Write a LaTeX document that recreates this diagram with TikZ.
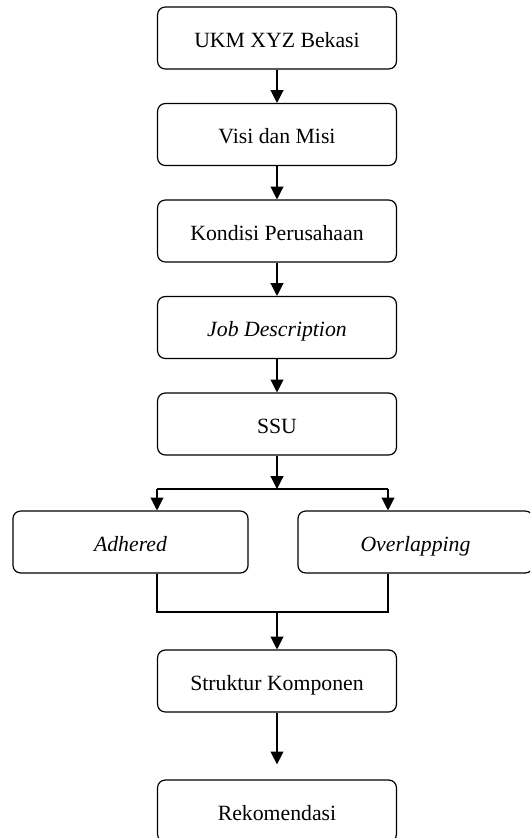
\documentclass[tikz,border=0pt]{standalone}
\usepackage{fontspec}
\setmainfont{Liberation Serif}
\usetikzlibrary{arrows.meta}
\begin{document}
\begin{tikzpicture}[
   x=0.0265cm, y=-0.0265cm,
   line width=0.9pt,
   every node/.style={draw, rounded corners=0.2cm, line width=0.9pt,
      minimum width=6.33cm, minimum height=1.64cm,
      text height=17pt, text depth=3pt,
      font=\fontsize{16.4}{19}\selectfont},
   half/.style={minimum width=6.23cm},
   arr/.style={-{Triangle[width=0.34cm,length=0.34cm]}}]

\clip (0,0) rectangle (530,838);

\node (ukm)   at (277,38)    {UKM XYZ Bekasi};
\node (visi)  at (277,134.5) {Visi dan Misi};
\node (kond)  at (277,231)   {Kondisi Perusahaan};
\node (job)   at (277,327.5) {\itshape Job Description};
\node (ssu)   at (277,424)   {SSU};
\node[half] (adh) at (130.5,542) {\itshape Adhered};
\node[half] (ovl) at (415.5,542) {\itshape Overlapping};
\node (struk) at (277,681)   {Struktur Komponen};
\node (rek)   at (277,811)   {Rekomendasi};

% fork and merge points
\coordinate (fk) at (277,489);
\coordinate (fl) at (157,489);
\coordinate (fr) at (388,489);
\coordinate (mm) at (277,612);
\coordinate (ml) at (157,612);
\coordinate (mr) at (388,612);

\draw[arr] (ukm) -- (visi);
\draw[arr] (visi) -- (kond);
\draw[arr] (kond) -- (job);
\draw[arr] (job) -- (ssu);
\draw[arr] (ssu) -- (fk);
\draw (fl) -- (fr);
\draw[arr] (fl) -- (fl |- adh.north);
\draw[arr] (fr) -- (fr |- ovl.north);
\draw (adh.south -| ml) -- (ml) -- (mr) -- (ovl.south -| mr);
\draw[arr] (mm) -- (mm |- struk.north);
\draw[arr, shorten >=0.4cm] (struk) -- (rek);

\end{tikzpicture}
\end{document}
